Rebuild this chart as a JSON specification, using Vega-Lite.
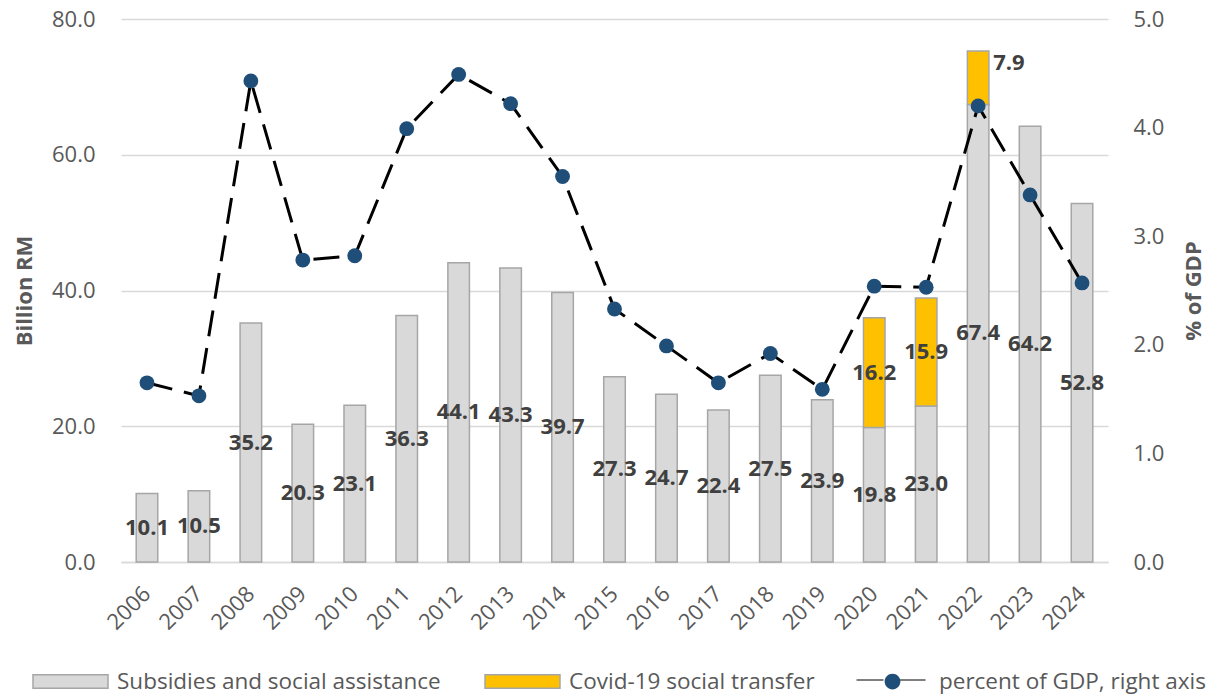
{
  "$schema": "https://vega.github.io/schema/vega-lite/v6.json",
  "width": 987,
  "height": 543,
  "autosize": {"type": "none"},
  "padding": {"left": 121, "top": 19, "right": 113, "bottom": 134},
  "background": "white",
  "config": {
    "view": {"stroke": null},
    "font": "Open Sans",
    "axis": {
      "ticks": false,
      "labelFont": "Open Sans",
      "labelFontSize": 22,
      "labelColor": "#595959",
      "titleFont": "Open Sans",
      "titleFontSize": 22,
      "titleFontWeight": "bold",
      "titleColor": "#595959",
      "gridColor": "#d9d9d9",
      "gridWidth": 1.5,
      "domainColor": "#d9d9d9",
      "domainWidth": 1.5
    },
    "legend": {
      "orient": "none",
      "legendY": 624,
      "direction": "horizontal",
      "padding": 0,
      "symbolSize": 5625,
      "symbolOpacity": 1,
      "labelFont": "Open Sans",
      "labelFontSize": 22.5,
      "labelColor": "#595959",
      "labelOffset": 8,
      "columnPadding": 41,
      "labelLimit": 500
    }
  },
  "datasets": {
    "spending": [
      {"year": "2006", "series": "Subsidies and social assistance", "value": 10.1},
      {"year": "2007", "series": "Subsidies and social assistance", "value": 10.5},
      {"year": "2008", "series": "Subsidies and social assistance", "value": 35.2},
      {"year": "2009", "series": "Subsidies and social assistance", "value": 20.3},
      {"year": "2010", "series": "Subsidies and social assistance", "value": 23.1},
      {"year": "2011", "series": "Subsidies and social assistance", "value": 36.3},
      {"year": "2012", "series": "Subsidies and social assistance", "value": 44.1},
      {"year": "2013", "series": "Subsidies and social assistance", "value": 43.3},
      {"year": "2014", "series": "Subsidies and social assistance", "value": 39.7},
      {"year": "2015", "series": "Subsidies and social assistance", "value": 27.3},
      {"year": "2016", "series": "Subsidies and social assistance", "value": 24.7},
      {"year": "2017", "series": "Subsidies and social assistance", "value": 22.4},
      {"year": "2018", "series": "Subsidies and social assistance", "value": 27.5},
      {"year": "2019", "series": "Subsidies and social assistance", "value": 23.9},
      {"year": "2020", "series": "Subsidies and social assistance", "value": 19.8},
      {"year": "2021", "series": "Subsidies and social assistance", "value": 23.0},
      {"year": "2022", "series": "Subsidies and social assistance", "value": 67.4},
      {"year": "2023", "series": "Subsidies and social assistance", "value": 64.2},
      {"year": "2024", "series": "Subsidies and social assistance", "value": 52.8},
      {"year": "2020", "series": "Covid-19 social transfer", "value": 16.2},
      {"year": "2021", "series": "Covid-19 social transfer", "value": 15.9},
      {"year": "2022", "series": "Covid-19 social transfer", "value": 7.9}
    ],
    "gdp": [
      {"year": "2006", "pct": 1.65},
      {"year": "2007", "pct": 1.53},
      {"year": "2008", "pct": 4.43},
      {"year": "2009", "pct": 2.78},
      {"year": "2010", "pct": 2.82},
      {"year": "2011", "pct": 3.99},
      {"year": "2012", "pct": 4.49},
      {"year": "2013", "pct": 4.22},
      {"year": "2014", "pct": 3.55},
      {"year": "2015", "pct": 2.33},
      {"year": "2016", "pct": 1.99},
      {"year": "2017", "pct": 1.65},
      {"year": "2018", "pct": 1.92},
      {"year": "2019", "pct": 1.59},
      {"year": "2020", "pct": 2.54},
      {"year": "2021", "pct": 2.53},
      {"year": "2022", "pct": 4.2},
      {"year": "2023", "pct": 3.38},
      {"year": "2024", "pct": 2.57}
    ]
  },
  "encoding": {
    "x": {
      "field": "year",
      "type": "ordinal",
      "title": null,
      "scale": {"paddingInner": 0, "paddingOuter": 0},
      "axis": {"labelAngle": -45, "labelAlign": "right", "labelBaseline": "middle", "labelPadding": 28, "grid": false}
    }
  },
  "layer": [
    {
      "data": {"name": "spending"},
      "transform": [
        {"stack": "value", "groupby": ["year"], "sort": [{"field": "series", "order": "descending"}], "as": ["v0", "v1"]},
        {"calculate": "(datum.v0 + datum.v1) / 2", "as": "mid"}
      ],
      "layer": [
        {
          "mark": {"type": "bar", "width": {"band": 0.415}, "stroke": "#a6a6a6", "strokeWidth": 1.5, "opacity": 1},
          "encoding": {
            "y": {
              "field": "v1",
              "type": "quantitative",
              "title": "Billion RM",
              "scale": {"domain": [0, 80]},
              "axis": {"values": [0, 20, 40, 60, 80], "format": ".1f", "labelPadding": 26, "domain": false, "grid": true, "titleX": -97, "titleBaseline": "middle", "titleAngle": -90}
            },
            "y2": {"field": "v0"},
            "color": {
              "field": "series",
              "type": "nominal",
              "scale": {
                "domain": ["Subsidies and social assistance", "Covid-19 social transfer"],
                "range": ["#d9d9d9", "#ffc000"]
              },
              "legend": {
                "title": null,
                "legendX": -89,
                "symbolType": "M-1,-0.18H1V0.18H-1Z",
                "symbolStrokeColor": "#a6a6a6",
                "symbolStrokeWidth": 1.5
              }
            }
          }
        },
        {
          "transform": [{"filter": "!(datum.year === '2022' && datum.series === 'Covid-19 social transfer')"}],
          "mark": {"type": "text", "font": "Open Sans", "fontSize": 22, "fontWeight": "bold", "color": "#404040"},
          "encoding": {
            "y": {"field": "mid", "type": "quantitative", "title": "Billion RM"},
            "text": {"field": "value", "type": "quantitative", "format": ".1f"}
          }
        },
        {
          "transform": [{"filter": "datum.year === '2022' && datum.series === 'Covid-19 social transfer'"}],
          "mark": {"type": "text", "font": "Open Sans", "fontSize": 22, "fontWeight": "bold", "color": "#404040", "align": "left", "dx": 15, "dy": -15},
          "encoding": {
            "y": {"field": "mid", "type": "quantitative", "title": "Billion RM"},
            "text": {"field": "value", "type": "quantitative", "format": ".1f"}
          }
        }
      ]
    },
    {
      "data": {"name": "gdp"},
      "encoding": {
        "y": {
          "field": "pct",
          "type": "quantitative",
          "title": "% of GDP",
          "scale": {"domain": [0, 5]},
          "axis": {"orient": "right", "values": [0, 1, 2, 3, 4, 5], "format": ".1f", "labelPadding": 25, "domain": false, "grid": false, "titleX": 85, "titleBaseline": "middle", "titleAngle": -90}
        }
      },
      "layer": [
        {"mark": {"type": "line", "color": "black", "strokeWidth": 3, "strokeDash": [26, 12]}},
        {"mark": {"type": "point", "filled": true, "size": 220, "opacity": 1, "color": "#1f4e79"}},
        {
          "description": "Legend key (line part) for the % of GDP series; draws no marks of its own.",
          "transform": [{"filter": "false"}],
          "mark": {"type": "point", "filled": false, "opacity": 1, "color": "black", "strokeWidth": 3.5},
          "encoding": {
            "strokeWidth": {
              "datum": "gdp-line",
              "type": "ordinal",
              "scale": {"range": [3.5]},
              "legend": {
                "title": null,
                "legendX": 770,
                "legendY": 661,
                "labelExpr": "''",
                "symbolType": "M-0.92,0H-0.2M0.2,0H0.92",
                "symbolStrokeColor": "black",
                "symbolStrokeWidth": 3.5
              }
            }
          }
        },
        {
          "description": "Legend key (marker part) for the % of GDP series; draws no marks of its own.",
          "transform": [{"filter": "false"}],
          "mark": {"type": "point", "filled": true, "opacity": 1, "color": "#1f4e79"},
          "encoding": {
            "shape": {
              "datum": "percent of GDP, right axis",
              "type": "nominal",
              "scale": {"range": ["M-0.21,0A0.21,0.21,0,1,1,0.21,0A0.21,0.21,0,1,1,-0.21,0Z"]},
              "legend": {
                "title": null,
                "legendX": 733,
                "symbolFillColor": "#1f4e79"
              }
            }
          }
        }
      ]
    }
  ],
  "resolve": {"scale": {"y": "independent"}}
}
